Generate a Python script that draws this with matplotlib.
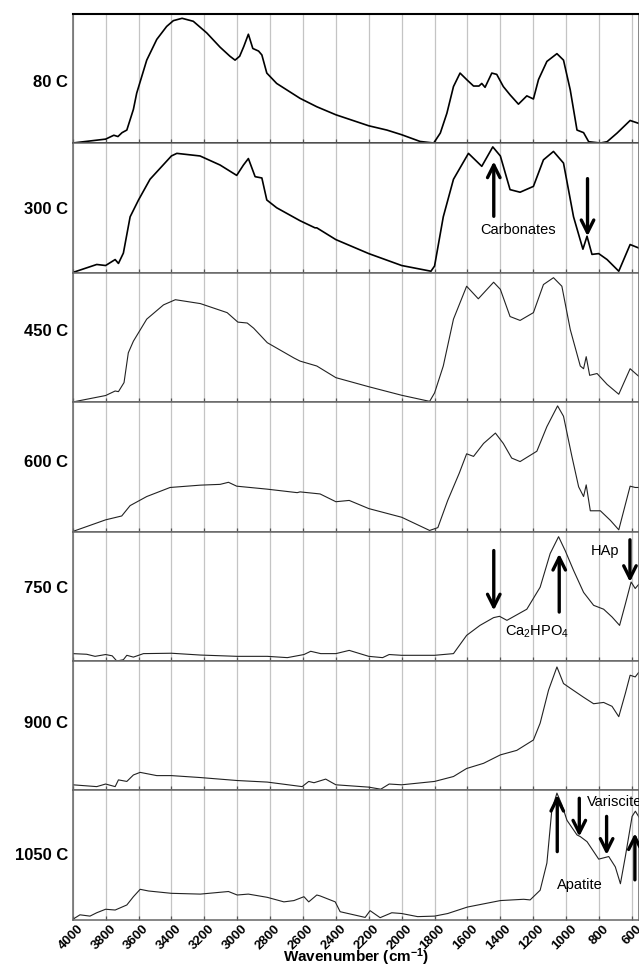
import numpy as np
import matplotlib.pyplot as plt
from matplotlib.transforms import ScaledTranslation

plt.rcParams['font.family'] = ['Liberation Sans', 'DejaVu Sans']
plt.rcParams['mathtext.fontset'] = 'custom'
plt.rcParams['mathtext.rm'] = 'Liberation Sans'
plt.rcParams['mathtext.it'] = 'Liberation Sans:italic'
plt.rcParams['mathtext.bf'] = 'Liberation Sans:bold'

# espectros FTIR (numero de onda, absorbancia normalizada)
wn_80 = [4000, 3900, 3800, 3750, 3725, 3700, 3671, 3631, 3611, 3550, 3489, 3429, 3388, 3335, 3267,
         3185, 3104, 3044, 3013, 2985, 2960, 2932, 2905, 2870, 2850, 2820, 2760, 2618, 2516, 2400,
         2200, 2090, 2000, 1888, 1805, 1765, 1725, 1685, 1645, 1605, 1563, 1530, 1513, 1493, 1452,
         1422, 1382, 1341, 1290, 1239, 1199, 1168, 1117, 1056, 1016, 975, 934, 894, 863, 792, 751,
         690, 611, 555]
ab_80 = [0.0, 0.015, 0.03, 0.06, 0.05, 0.08, 0.10, 0.26, 0.385, 0.64, 0.80, 0.90, 0.945, 0.963, 0.94,
         0.85, 0.74, 0.67, 0.64, 0.67, 0.745, 0.84, 0.73, 0.71, 0.68, 0.54, 0.46, 0.345, 0.28, 0.218,
         0.133, 0.10, 0.064, 0.012, 0.0, 0.077, 0.23, 0.436, 0.54, 0.49, 0.44, 0.44, 0.46, 0.43, 0.54,
         0.53, 0.436, 0.372, 0.30, 0.364, 0.34, 0.49, 0.63, 0.69, 0.64, 0.41, 0.10, 0.08, 0.01, 0.0, 0.01,
         0.077, 0.174, 0.15]

wn_300 = [4000, 3854, 3800, 3742, 3722, 3692, 3651, 3600, 3530, 3400, 3367, 3226, 3104, 3003, 2962,
          2932, 2891, 2850, 2820, 2760, 2618, 2527, 2516, 2400, 2200, 2000, 1822, 1800, 1747, 1685,
          1594, 1513, 1446, 1400, 1341, 1280, 1199, 1138, 1077, 1016, 955, 898, 873, 843, 802, 751,
          680, 611, 560]
ab_300 = [0.0, 0.062, 0.054, 0.10, 0.07, 0.15, 0.43, 0.56, 0.72, 0.90, 0.92, 0.90, 0.83, 0.75, 0.83,
          0.88, 0.74, 0.73, 0.56, 0.50, 0.40, 0.345, 0.345, 0.254, 0.146, 0.054, 0.01, 0.05, 0.43, 0.72,
          0.92, 0.82, 0.97, 0.90, 0.64, 0.62, 0.665, 0.87, 0.935, 0.845, 0.43, 0.18, 0.28, 0.14, 0.146, 0.10,
          0.01, 0.216, 0.19]

wn_450 = [4000, 3800, 3742, 3722, 3688, 3662, 3631, 3550, 3448, 3376, 3224, 3061, 2996, 2939, 2900,
          2817, 2655, 2618, 2516, 2400, 2200, 2000, 1830, 1800, 1747, 1685, 1605, 1534, 1441, 1400,
          1341, 1280, 1199, 1138, 1077, 1026, 975, 914, 894, 878, 857, 812, 751, 680, 611, 560]
ab_450 = [0.0, 0.05, 0.085, 0.08, 0.15, 0.38, 0.47, 0.64, 0.75, 0.79, 0.76, 0.69, 0.617, 0.61, 0.57,
          0.458, 0.34, 0.316, 0.278, 0.188, 0.118, 0.052, 0.005, 0.07, 0.278, 0.64, 0.894, 0.797, 0.925, 0.87,
          0.66, 0.63, 0.69, 0.907, 0.96, 0.894, 0.56, 0.278, 0.257, 0.35, 0.206, 0.22, 0.136, 0.06, 0.257, 0.20]

wn_600 = [4000, 3800, 3702, 3651, 3550, 3408, 3224, 3104, 3053, 3003, 2817, 2635, 2618, 2496, 2400,
          2319, 2200, 2000, 1830, 1780, 1720, 1650, 1605, 1563, 1502, 1430, 1382, 1331, 1280, 1178,
          1117, 1052, 1016, 965, 924, 894, 878, 853, 792, 731, 680, 611, 580, 560]
ab_600 = [0.0, 0.09, 0.12, 0.20, 0.27, 0.34, 0.358, 0.364, 0.38, 0.35, 0.327, 0.30, 0.306, 0.29, 0.23,
          0.24, 0.177, 0.11, 0.008, 0.03, 0.24, 0.45, 0.60, 0.58, 0.68, 0.76, 0.68, 0.567, 0.54, 0.62,
          0.81, 0.97, 0.89, 0.58, 0.345, 0.27, 0.36, 0.16, 0.16, 0.086, 0.013, 0.35, 0.34, 0.34]

wn_750 = [4000, 3915, 3864, 3800, 3760, 3732, 3692, 3671, 3631, 3570, 3400, 3224, 3000, 2817, 2695,
          2594, 2553, 2492, 2400, 2319, 2200, 2116, 2076, 2000, 1800, 1685, 1605, 1524, 1441, 1405,
          1360, 1239, 1158, 1097, 1046, 1005, 955, 894, 833, 772, 721, 675, 640, 605, 580, 560]
ab_750 = [0.057, 0.052, 0.036, 0.05, 0.04, 0.0, 0.01, 0.044, 0.03, 0.057, 0.06, 0.046, 0.036, 0.036, 0.026,
          0.05, 0.075, 0.057, 0.057, 0.082, 0.036, 0.026, 0.05, 0.044, 0.044, 0.057, 0.198, 0.275, 0.335, 0.345,
          0.314, 0.40, 0.57, 0.83, 0.96, 0.85, 0.70, 0.53, 0.43, 0.40, 0.34, 0.275, 0.44, 0.61, 0.56, 0.59]

wn_900 = [4000, 3854, 3800, 3742, 3722, 3671, 3631, 3590, 3489, 3400, 3224, 3000, 2817, 2605, 2565,
          2533, 2462, 2400, 2200, 2127, 2076, 2000, 1800, 1685, 1605, 1502, 1400, 1300, 1199, 1158,
          1107, 1056, 1016, 975, 894, 833, 772, 721, 680, 640, 611, 580, 560]
ab_900 = [0.044, 0.03, 0.05, 0.03, 0.082, 0.07, 0.12, 0.14, 0.115, 0.115, 0.10, 0.077, 0.065, 0.03, 0.07,
          0.06, 0.088, 0.044, 0.026, 0.01, 0.05, 0.044, 0.07, 0.108, 0.17, 0.21, 0.275, 0.31, 0.39, 0.52,
          0.775, 0.954, 0.826, 0.79, 0.72, 0.67, 0.68, 0.65, 0.57, 0.75, 0.89, 0.877, 0.91]

wn_1050 = [4000, 3956, 3895, 3854, 3800, 3742, 3671, 3631, 3590, 3539, 3400, 3224, 3053, 3000, 2932,
           2817, 2716, 2655, 2594, 2565, 2516, 2496, 2404, 2374, 2222, 2192, 2131, 2060, 2000, 1903,
           1800, 1720, 1600, 1400, 1258, 1219, 1158, 1117, 1087, 1056, 1026, 995, 934, 914, 873,
           802, 741, 701, 670, 640, 599, 579, 555]
ab_1050 = [0.005, 0.04, 0.03, 0.056, 0.083, 0.077, 0.116, 0.18, 0.237, 0.224, 0.206, 0.20, 0.22, 0.193, 0.20,
           0.175, 0.14, 0.15, 0.18, 0.14, 0.193, 0.186, 0.14, 0.064, 0.02, 0.072, 0.018, 0.056, 0.05, 0.026,
           0.03, 0.05, 0.10, 0.15, 0.16, 0.155, 0.23, 0.44, 0.85, 0.98, 0.89, 0.77, 0.657, 0.644, 0.605,
           0.47, 0.49, 0.41, 0.28, 0.49, 0.80, 0.84, 0.79]

etiquetas = ['80 C', '300 C', '450 C', '600 C', '750 C', '900 C', '1050 C']
espectros = [(wn_80, ab_80), (wn_300, ab_300), (wn_450, ab_450), (wn_600, ab_600),
             (wn_750, ab_750), (wn_900, ab_900), (wn_1050, ab_1050)]
grosores = [1.2, 1.2, 0.8, 0.8, 0.8, 0.8, 0.8]
pos_etiqueta = [0.465, 0.486, 0.545, 0.53, 0.56, 0.52, 0.50]

# flechas: (panel, numero de onda, y cola, y punta)
flechas = [(1, 1440, 0.434, 0.858), (1, 870, 0.725, 0.28),
           (4, 1440, 0.853, 0.39), (4, 1042, 0.378, 0.828), (4, 612, 0.936, 0.61),
           (6, 1054, 0.528, 0.967), (6, 920, 0.94, 0.644), (6, 754, 0.80, 0.503), (6, 582, 0.31, 0.67)]
# textos: (panel, numero de onda, y, texto, alineacion)
textos = [(1, 1291, 0.33, 'Carbonates', 'center'),
          (4, 1179, 0.224, 'Ca$_2$HPO$_4$', 'center'),
          (4, 764, 0.853, 'HAp', 'center'),
          (6, 875, 0.915, 'Variscite', 'left'),
          (6, 916, 0.27, 'Apatite', 'center')]

fig, axes = plt.subplots(7, 1, figsize=(6.39, 9.72), dpi=100, sharex=True)
fig.subplots_adjust(left=0.1138, right=1.0, top=0.9861, bottom=0.0535, hspace=0)

for i, ax in enumerate(axes):
    wn, ab = espectros[i]
    ax.plot(wn, ab, color='black' if i < 2 else '#222222', lw=grosores[i])
    ax.set_xlim(4000, 557)
    ax.set_ylim(0, 1)
    ax.set_yticks([])
    ax.set_xticks(np.arange(4000, 599, -200))
    ax.grid(axis='x', color='#c4c4c4', lw=0.9)
    ax.set_axisbelow(True)
    ax.tick_params(axis='x', direction='in', length=3, color='#555555', width=0.9)
    for lado in ['left', 'right', 'top', 'bottom']:
        ax.spines[lado].set_color('#666666')
        ax.spines[lado].set_linewidth(1.1)
    ax.text(-0.008, pos_etiqueta[i], etiquetas[i], transform=ax.transAxes,
            ha='right', va='center', fontsize=12, fontweight='bold')

axes[0].spines['top'].set_color('black')
axes[0].spines['top'].set_linewidth(1.5)
axes[0].spines['bottom'].set_color('black')
axes[0].spines['bottom'].set_linewidth(1.4)

for p, x, y0, y1 in flechas:
    axes[p].annotate('', xy=(x, y1), xytext=(x, y0),
                     arrowprops=dict(arrowstyle='->,head_length=0.9,head_width=0.45',
                                     lw=2.4, color='black', shrinkA=0, shrinkB=0))

for p, x, y, t, al in textos:
    axes[p].text(x, y, t, ha=al, va='center', fontsize=10.5, clip_on=False)

abajo = axes[-1]
abajo.tick_params(axis='x', pad=2)
for lbl in abajo.get_xticklabels():
    lbl.set_rotation(45)
    lbl.set_ha('right')
    lbl.set_va('top')
    lbl.set_rotation_mode('anchor')
    lbl.set_fontsize(9.5)
    lbl.set_fontweight('bold')
    lbl.set_transform(lbl.get_transform() + ScaledTranslation(3 / 72, 0, fig.dpi_scale_trans))

fig.text(0.557, 0.0154, r'Wavenumber (cm$^{\mathbf{-1}}$)', ha='center', va='center',
         fontsize=11, fontweight='bold')

plt.savefig('out.png', dpi=100)
